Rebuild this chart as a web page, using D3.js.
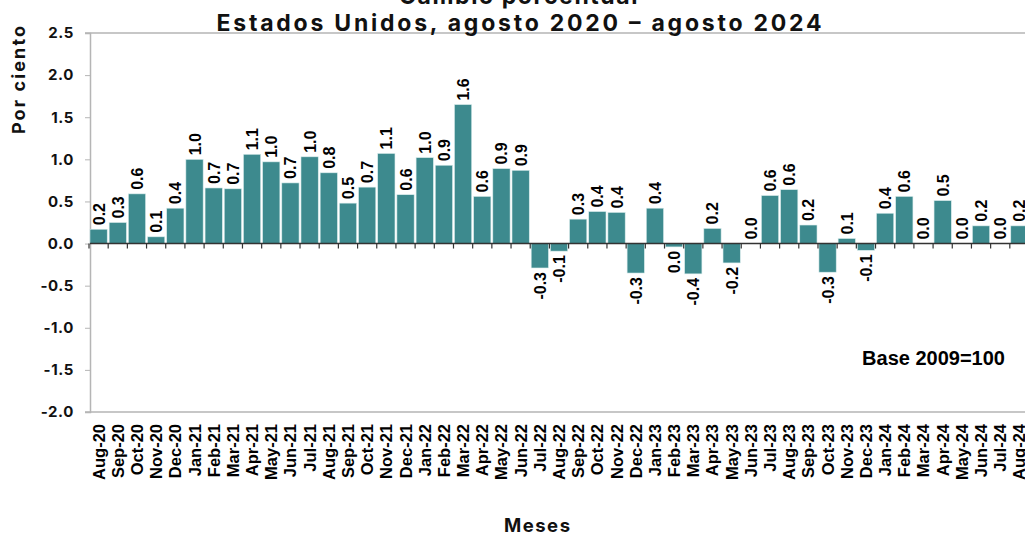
<!DOCTYPE html>
<html>
<head>
<meta charset="utf-8">
<script src="https://cdn.jsdelivr.net/npm/d3@7"></script>
<style>
  body { margin: 0; background: #fff; }
</style>
</head>
<body>
<div id="canevas"></div>
<script>
// données
let mois = ["Aug-20","Sep-20","Oct-20","Nov-20","Dec-20",
  "Jan-21","Feb-21","Mar-21","Apr-21","May-21","Jun-21","Jul-21","Aug-21","Sep-21","Oct-21","Nov-21","Dec-21",
  "Jan-22","Feb-22","Mar-22","Apr-22","May-22","Jun-22","Jul-22","Aug-22","Sep-22","Oct-22","Nov-22","Dec-22",
  "Jan-23","Feb-23","Mar-23","Apr-23","May-23","Jun-23","Jul-23","Aug-23","Sep-23","Oct-23","Nov-23","Dec-23",
  "Jan-24","Feb-24","Mar-24","Apr-24","May-24","Jun-24","Jul-24","Aug-24"];

let valeurs = [0.17, 0.25, 0.59, 0.08, 0.42,
  1.00, 0.66, 0.65, 1.06, 0.97, 0.72, 1.03, 0.84, 0.48, 0.67, 1.07, 0.58,
  1.02, 0.93, 1.65, 0.56, 0.89, 0.87, -0.29, -0.09, 0.29, 0.38, 0.37, -0.35,
  0.42, -0.04, -0.36, 0.18, -0.23, 0.00, 0.57, 0.64, 0.22, -0.34, 0.06, -0.08,
  0.36, 0.56, 0.00, 0.51, 0.00, 0.21, 0.00, 0.21];

let etiquettes = ["0.2","0.3","0.6","0.1","0.4",
  "1.0","0.7","0.7","1.1","1.0","0.7","1.0","0.8","0.5","0.7","1.1","0.6",
  "1.0","0.9","1.6","0.6","0.9","0.9","-0.3","-0.1","0.3","0.4","0.4","-0.3",
  "0.4","0.0","-0.4","0.2","-0.2","0.0","0.6","0.6","0.2","-0.3","0.1","-0.1",
  "0.4","0.6","0.0","0.5","0.0","0.2","0.0","0.2"];

let ticksY = [2.5, 2.0, 1.5, 1.0, 0.5, 0.0, -0.5, -1.0, -1.5, -2.0];

// canevas
let largeur = 1025;
let hauteur = 534;

let canevas = d3.select("#canevas")
  .append("svg")
  .attr("width", largeur)
  .attr("height", hauteur);

canevas.append("rect")
  .attr("width", "100%")
  .attr("height", "100%")
  .attr("fill", "#ffffff");

// echelles
let echelleX = d3.scaleBand()
  .domain(mois)
  .range([89, 1029])
  .paddingInner(0.1)
  .paddingOuter(0.05);

let echelleY = d3.scaleLinear()
  .domain([-2, 2.5])
  .range([412, 33]);

let police = "'Inter', 'Open Sans', sans-serif";
let policeArial = "'Liberation Sans', Arial, sans-serif";

// cadre haut et bas
canevas.append("line")
  .attr("x1", 85).attr("x2", largeur)
  .attr("y1", echelleY(2.5)).attr("y2", echelleY(2.5))
  .attr("stroke", "#b5b5b5").attr("stroke-width", 1.5);
canevas.append("line")
  .attr("x1", 85).attr("x2", largeur)
  .attr("y1", echelleY(-2)).attr("y2", echelleY(-2))
  .attr("stroke", "#b5b5b5").attr("stroke-width", 1.5);

// axe Y (tiret simple comme dans l'original)
let axeY = canevas.append("g")
  .attr("transform", "translate(90,0)")
  .call(d3.axisLeft(echelleY).tickValues(ticksY).tickFormat(d => d.toFixed(1)).tickSize(5).tickPadding(11));
axeY.select(".domain").attr("stroke", "#b5b5b5").attr("stroke-width", 1.5);
axeY.selectAll(".tick line").attr("stroke", "#b5b5b5");
axeY.selectAll("text")
  .attr("font-family", police)
  .attr("font-weight", 700)
  .attr("font-size", 15)
  .attr("letter-spacing", 0.6)
  .attr("fill", "#111");

// barres
canevas.selectAll("rect.barre")
  .data(valeurs)
  .enter()
  .append("rect")
  .attr("class", "barre")
  .attr("x", (d, i) => echelleX(mois[i]))
  .attr("width", echelleX.bandwidth())
  .attr("y", d => echelleY(Math.max(0, d)))
  .attr("height", d => Math.abs(echelleY(d) - echelleY(0)))
  .attr("fill", "#3d8a8e")
  .attr("stroke", "#d9ecec")
  .attr("stroke-width", 0.6);

// ligne zéro + petites graduations
canevas.append("line")
  .attr("x1", 90).attr("x2", largeur)
  .attr("y1", echelleY(0)).attr("y2", echelleY(0))
  .attr("stroke", "#333").attr("stroke-width", 1.5);

let pas = echelleX.step();
canevas.selectAll("line.grad")
  .data(mois)
  .enter()
  .append("line")
  .attr("class", "grad")
  .attr("x1", d => echelleX(d) - pas * 0.05)
  .attr("x2", d => echelleX(d) - pas * 0.05)
  .attr("y1", echelleY(0))
  .attr("y2", echelleY(0) + 5)
  .attr("stroke", "#333")
  .attr("stroke-width", 1.2);

// étiquettes de valeurs
canevas.selectAll("text.val")
  .data(valeurs)
  .enter()
  .append("text")
  .attr("class", "val")
  .attr("transform", (d, i) => {
    let x = echelleX(mois[i]) + echelleX.bandwidth() / 2 + 6;
    let y = d >= 0 ? echelleY(d) - 4 : echelleY(d) + 4;
    return "translate(" + x + "," + y + ") rotate(-90)";
  })
  .attr("text-anchor", d => d >= 0 ? "start" : "end")
  .attr("font-family", policeArial)
  .attr("font-weight", 700)
  .attr("font-size", 16)
  .attr("fill", "#000")
  .text((d, i) => etiquettes[i]);

// étiquettes des mois
canevas.selectAll("text.mois")
  .data(mois)
  .enter()
  .append("text")
  .attr("class", "mois")
  .attr("transform", d => "translate(" + (echelleX(d) + echelleX.bandwidth() / 2 + 6) + ",424) rotate(-90)")
  .attr("text-anchor", "end")
  .attr("font-family", policeArial)
  .attr("font-weight", 700)
  .attr("font-size", 16.5)
  .attr("fill", "#000")
  .text(d => d);

// titres
canevas.append("text")
  .attr("x", 519).attr("y", 4)
  .attr("text-anchor", "middle")
  .attr("font-family", police)
  .attr("font-weight", 700)
  .attr("font-size", 23)
  .attr("letter-spacing", 1.6)
  .attr("fill", "#111")
  .text("Cambio porcentual");

canevas.append("text")
  .attr("x", 519).attr("y", 31)
  .attr("text-anchor", "middle")
  .attr("font-family", police)
  .attr("font-weight", 700)
  .attr("font-size", 23)
  .attr("textLength", 605)
  .attr("lengthAdjust", "spacing")
  .attr("fill", "#111")
  .text("Estados Unidos, agosto 2020 – agosto 2024");

canevas.append("text")
  .attr("transform", "translate(25,80) rotate(-90)")
  .attr("text-anchor", "middle")
  .attr("font-family", police)
  .attr("font-weight", 700)
  .attr("font-size", 18)
  .attr("textLength", 108)
  .attr("lengthAdjust", "spacing")
  .attr("fill", "#111")
  .text("Por ciento");

canevas.append("text")
  .attr("x", 537).attr("y", 532)
  .attr("text-anchor", "middle")
  .attr("font-family", police)
  .attr("font-weight", 700)
  .attr("font-size", 18.5)
  .attr("textLength", 66)
  .attr("lengthAdjust", "spacing")
  .attr("fill", "#111")
  .text("Meses");

canevas.append("text")
  .attr("x", 1005).attr("y", 365)
  .attr("text-anchor", "end")
  .attr("font-family", policeArial)
  .attr("font-weight", 700)
  .attr("font-size", 20)
  .attr("fill", "#000")
  .text("Base 2009=100");
</script>
</body>
</html>
